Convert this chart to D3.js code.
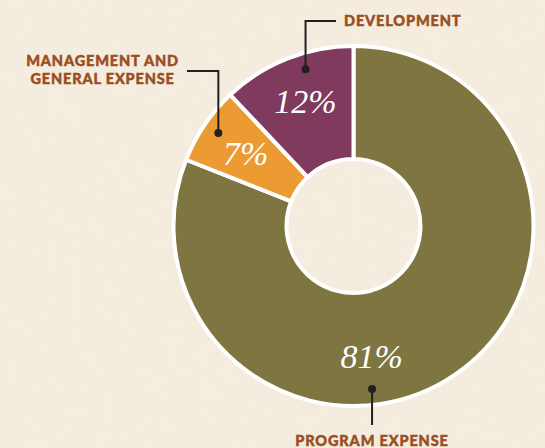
<!DOCTYPE html>
<html>
<head>
<meta charset="utf-8">
<script src="https://cdn.jsdelivr.net/npm/d3@7"></script>
<style>
  html, body { margin: 0; padding: 0; background: #f4ecdf; }
  svg { display: block; }
</style>
</head>
<body>
<div id="chart-area"></div>
<script>
// data
const categories = ['PROGRAM EXPENSE', 'MANAGEMENT AND\nGENERAL EXPENSE', 'DEVELOPMENT'];
const shares = [81, 7, 12];
const colours = ['#7e7541', '#ec9a32', '#7f3a5e'];

// sizes
const width = 545;
const height = 448;
const cx = 353.5;
const cy = 226;
const outer = 180;
const inner = 67;

// where the callout dot and the percent text sit on each slice (degrees, clockwise from top)
const layout = [
    { dot: 173.5, text: 172, textR: 131 },
    { dot: 304.5, text: 304, textR: 130 },
    { dot: 343, text: 339, textR: 134 }
];

const svg = d3.select('#chart-area').append('svg')
    .attr('width', width)
    .attr('height', height);

// paper texture
const defs = svg.append('defs');
const f = defs.append('filter').attr('id', 'paper').attr('x', 0).attr('y', 0).attr('width', '100%').attr('height', '100%');
f.append('feTurbulence').attr('type', 'fractalNoise').attr('baseFrequency', '0.06').attr('numOctaves', 2).attr('seed', 4);
f.append('feColorMatrix').attr('type', 'matrix')
    .attr('values', '0 0 0 0 0.86  0 0 0 0 0.80  0 0 0 0 0.70  0 0 0 0.3 0');
f.append('feComposite').attr('in2', 'SourceGraphic').attr('operator', 'in');

svg.append('rect').attr('width', width).attr('height', height).attr('fill', '#f5eddf');
svg.append('rect').attr('width', width).attr('height', height).attr('fill', '#fff').attr('filter', 'url(#paper)').attr('opacity', 0.9);

const g = svg.append('g').attr('transform', `translate(${cx}, ${cy})`);

const pie = d3.pie().sort(null).value(d => d);
const arc = d3.arc().innerRadius(inner).outerRadius(outer);
const arcs = pie(shares);

g.selectAll('path.slice')
    .data(arcs)
    .enter().append('path')
    .attr('class', 'slice')
    .attr('d', arc)
    .attr('fill', (d, i) => colours[i])
    .attr('stroke', '#fff')
    .attr('stroke-width', 4)
    .attr('stroke-linejoin', 'miter');

const rad = deg => deg * Math.PI / 180;
const polar = (deg, r) => [r * Math.sin(rad(deg)), -r * Math.cos(rad(deg))];

// percent labels
g.selectAll('text.pct')
    .data(arcs)
    .enter().append('text')
    .attr('class', 'pct')
    .attr('x', (d, i) => polar(layout[i].text, layout[i].textR)[0])
    .attr('y', (d, i) => polar(layout[i].text, layout[i].textR)[1])
    .attr('dy', '0.35em')
    .attr('text-anchor', 'middle')
    .attr('fill', '#fff')
    .attr('font-family', '"Liberation Serif", serif')
    .attr('font-style', 'italic')
    .attr('font-size', '34px')
    .text(d => d.value + '%');

// callouts
const ink = '#231f20';
const dotR = 164;
const dots = layout.map(l => polar(l.dot, dotR));

// leader lines (coords relative to centre)
const leaders = [
    [dots[0], [dots[0][0], 425 - cy]],
    [dots[1], [dots[1][0], 71 - cy], [187 - cx, 71 - cy]],
    [dots[2], [dots[2][0], 21 - cy], [336 - cx, 21 - cy]]
];

g.selectAll('path.leader')
    .data(leaders)
    .enter().append('path')
    .attr('class', 'leader')
    .attr('d', d3.line())
    .attr('fill', 'none')
    .attr('stroke', ink)
    .attr('stroke-width', 2);

g.selectAll('circle.dot')
    .data(dots)
    .enter().append('circle')
    .attr('class', 'dot')
    .attr('cx', d => d[0])
    .attr('cy', d => d[1])
    .attr('r', 4)
    .attr('fill', ink);

// category labels
const labelPos = [
    { x: 372, y: 446, anchor: 'middle' },
    { x: 102.6, y: 66, anchor: 'middle' },
    { x: 344, y: 26, anchor: 'start' }
];

const labels = svg.selectAll('text.cat')
    .data(categories)
    .enter().append('text')
    .attr('class', 'cat')
    .attr('x', (d, i) => labelPos[i].x)
    .attr('y', (d, i) => labelPos[i].y)
    .attr('text-anchor', (d, i) => labelPos[i].anchor)
    .attr('fill', '#9a4e22')
    .attr('stroke', '#9a4e22')
    .attr('stroke-width', 0.45)
    .attr('font-family', 'Lato, sans-serif')
    .attr('font-weight', 900)
    .attr('font-size', '14.5px')
    .attr('letter-spacing', '0.85px');

labels.each(function (d, i) {
    const lines = d.split('\n');
    d3.select(this).selectAll('tspan')
        .data(lines)
        .enter().append('tspan')
        .attr('x', labelPos[i].x)
        .attr('dy', (l, j) => j === 0 ? 0 : '1.27em')
        .text(l => l);
});
</script>
</body>
</html>
